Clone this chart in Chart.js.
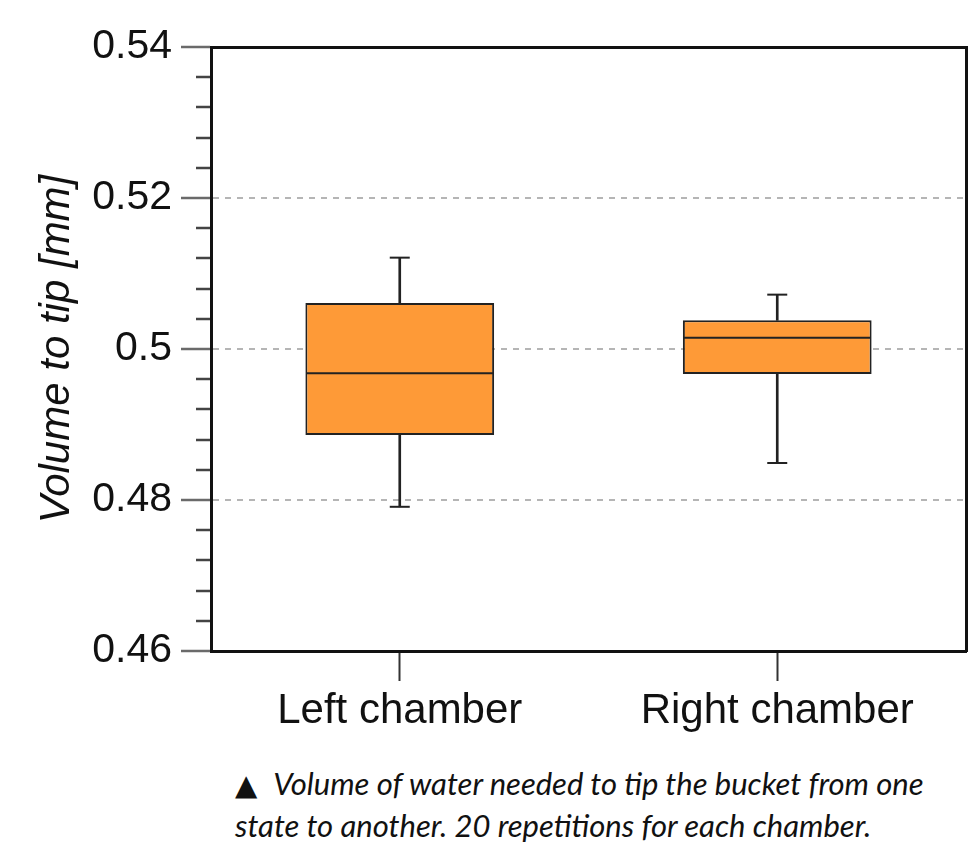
<!DOCTYPE html>
<html>
<head>
<meta charset="utf-8">
<script src="https://cdn.jsdelivr.net/npm/chart.js@4"></script>
<style>
  body { margin: 0; background: #fff; width: 973px; height: 850px; position: relative; overflow: hidden; }
  #wrap { position: absolute; left: 0; top: 0; width: 973px; height: 750px; }
  #caption {
    position: absolute; left: 235px; top: 763px;
    font-family: Lato, "Open Sans", sans-serif; font-style: italic;
    font-size: 31px; line-height: 40px; color: #111;
  }
  #caption .tri { font-style: normal; font-family: "DejaVu Sans", sans-serif; font-size: 29px; margin-right: 16px; }
</style>
</head>
<body>
<div id="wrap"><canvas id="boxChart"></canvas></div>
<div id="caption"><span class="tri">▲</span><span>Volume of water needed to tip the bucket from one</span><br>state to another. 20 repetitions for each chamber.</div>
<script>
const categories = ["Left chamber", "Right chamber"];
const whiskerLow = [0.4791, 0.4849];
const quartile1 = [0.4886, 0.4967];
const medians = [0.4968, 0.5015];
const quartile3 = [0.5061, 0.5038];
const whiskerHigh = [0.5121, 0.5072];
const yMin = 0.46, yMax = 0.54, minorStep = 0.004;

const boxColor = "#fe9a37";
const lineColor = "#222";

function isMajor(v) {
  return Math.abs(v * 50 - Math.round(v * 50)) < 1e-6;
}

// strip the label overflow padding chart.js adds, so the plot box sits where we want
function noPadding(scale) {
  scale.paddingLeft = 0;
  scale.paddingRight = 0;
  scale.paddingTop = 0;
  scale.paddingBottom = 0;
}

const boxes = categories.map((c, i) => [quartile1[i], quartile3[i]]);
const lowerWhiskers = categories.map((c, i) => [whiskerLow[i], quartile1[i]]);
const upperWhiskers = categories.map((c, i) => [quartile3[i], whiskerHigh[i]]);

// median line spans the box: box = half of a category slot
const medianRadius = (c) => c.chart.chartArea ? c.chart.chartArea.width / categories.length / 4 - 1 : 90;

const ctx = document.getElementById("boxChart").getContext("2d");
new Chart(ctx, {
  type: "bar",
  data: {
    labels: categories,
    datasets: [
      {
        label: "lower whisker", data: lowerWhiskers, grouped: false, order: 3,
        backgroundColor: lineColor, barThickness: 2, xAxisID: "x", yAxisID: "y"
      },
      {
        label: "upper whisker", data: upperWhiskers, grouped: false, order: 3,
        backgroundColor: lineColor, barThickness: 2, xAxisID: "x", yAxisID: "y"
      },
      {
        label: "box", data: boxes, grouped: false, order: 2,
        backgroundColor: boxColor, borderColor: lineColor, borderWidth: 2,
        borderSkipped: false, barPercentage: 0.5, categoryPercentage: 1.0,
        xAxisID: "x", yAxisID: "y"
      },
      {
        type: "line", label: "median", data: medians, order: 1, showLine: false,
        pointStyle: "line", pointRadius: medianRadius, pointHoverRadius: medianRadius,
        borderColor: lineColor, borderWidth: 2, xAxisID: "x", yAxisID: "y"
      },
      {
        type: "line", label: "max", data: whiskerHigh, order: 1, showLine: false,
        pointStyle: "line", pointRadius: 10, pointHoverRadius: 10,
        borderColor: lineColor, borderWidth: 2, xAxisID: "x", yAxisID: "y"
      },
      {
        type: "line", label: "min", data: whiskerLow, order: 1, showLine: false,
        pointStyle: "line", pointRadius: 10, pointHoverRadius: 10,
        borderColor: lineColor, borderWidth: 2, xAxisID: "x", yAxisID: "y"
      }
    ]
  },
  options: {
    responsive: true,
    maintainAspectRatio: false,
    animation: false,
    layout: { autoPadding: false, padding: { left: 0, top: 47, right: 7, bottom: 0 } },
    plugins: { legend: { display: false }, tooltip: { enabled: false } },
    scales: {
      x: {
        type: "category",
        position: "bottom",
        offset: true,
        grid: { drawOnChartArea: false, offset: false, tickLength: 30, tickColor: "#333", tickWidth: 2 },
        border: { color: "#111", width: 3 },
        ticks: { color: "#111", padding: 5, maxRotation: 0, font: { family: "Liberation Sans, Arial, sans-serif", size: 42 } },
        afterFit: (scale) => { noPadding(scale); scale.height = 99; }
      },
      xTop: {
        type: "category",
        position: "top",
        grid: { display: false, drawTicks: false },
        ticks: { display: false },
        border: { color: "#111", width: 3 },
        afterFit: (scale) => { noPadding(scale); scale.height = 0; }
      },
      y: {
        type: "linear",
        position: "left",
        min: yMin,
        max: yMax,
        ticks: {
          stepSize: minorStep,
          autoSkip: false,
          padding: 9,
          color: "#111",
          font: { family: "Liberation Sans, Arial, sans-serif", size: 41 },
          callback: (v) => isMajor(v) ? String(Number(v.toFixed(3))) : ""
        },
        grid: {
          tickLength: 30,
          lineWidth: 2,
          color: (c) => {
            const v = c.tick ? c.tick.value : 0;
            return isMajor(v) && v > yMin + 1e-6 && v < yMax - 1e-6 ? "#b5b5b5" : "rgba(0,0,0,0)";
          },
          tickColor: (c) => (c.tick && isMajor(c.tick.value)) ? "#6a6a6a" : "#444",
          tickWidth: 2.5,
          tickBorderDash: (c) => (c.tick && isMajor(c.tick.value)) ? [] : [0, 15, 30]
        },
        border: { color: "#111", width: 3, dash: [6, 6] },
        title: {
          display: true,
          text: "Volume to tip [mm]",
          color: "#111",
          padding: { top: 32, bottom: 0 },
          font: { family: "Liberation Sans, Arial, sans-serif", size: 42, style: "italic" }
        },
        afterFit: (scale) => { noPadding(scale); scale.width = 211; }
      },
      yRight: {
        type: "linear",
        position: "right",
        min: yMin,
        max: yMax,
        grid: { display: false, drawTicks: false },
        ticks: { display: false },
        border: { color: "#111", width: 3 },
        afterFit: (scale) => { noPadding(scale); scale.width = 0; }
      }
    }
  }
});
</script>
</body>
</html>
